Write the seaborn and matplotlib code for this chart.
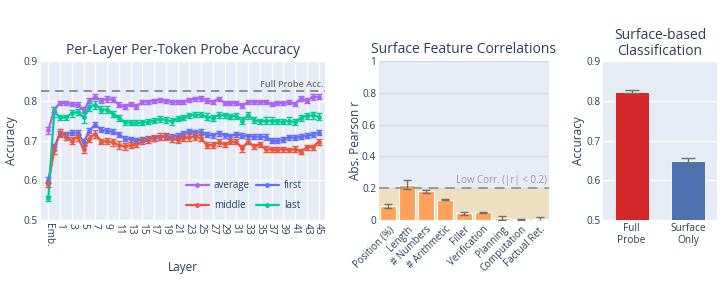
import numpy as np
import pandas as pd
import seaborn as sns
import matplotlib
matplotlib.use("Agg")
import matplotlib.pyplot as plt
from matplotlib.lines import Line2D

# ---- data ----
layer_labels = ["Emb."] + [str(i) for i in range(46)]

avg_acc = [0.726, 0.778, 0.795, 0.794, 0.791, 0.790, 0.776, 0.800, 0.810, 0.800,
           0.805, 0.803, 0.790, 0.785, 0.792, 0.785, 0.798, 0.797, 0.800, 0.802,
           0.800, 0.797, 0.796, 0.797, 0.803, 0.805, 0.806, 0.800, 0.798, 0.805,
           0.795, 0.794, 0.795, 0.788, 0.797, 0.797, 0.796, 0.797, 0.792, 0.794,
           0.795, 0.796, 0.793, 0.806, 0.800, 0.810, 0.810]
first_acc = [0.600, 0.683, 0.718, 0.715, 0.720, 0.720, 0.695, 0.725, 0.740, 0.727,
             0.725, 0.722, 0.715, 0.705, 0.703, 0.700, 0.703, 0.706, 0.706, 0.708,
             0.710, 0.710, 0.712, 0.718, 0.724, 0.720, 0.722, 0.715, 0.713, 0.718,
             0.713, 0.711, 0.716, 0.712, 0.711, 0.710, 0.710, 0.709, 0.700, 0.700,
             0.702, 0.708, 0.707, 0.710, 0.712, 0.715, 0.720]
middle_acc = [0.590, 0.677, 0.720, 0.710, 0.700, 0.708, 0.678, 0.705, 0.717, 0.697,
              0.698, 0.695, 0.688, 0.685, 0.688, 0.690, 0.698, 0.702, 0.706, 0.710,
              0.710, 0.704, 0.702, 0.706, 0.708, 0.710, 0.706, 0.688, 0.689, 0.695,
              0.690, 0.697, 0.697, 0.680, 0.697, 0.685, 0.690, 0.678, 0.678, 0.677,
              0.678, 0.676, 0.678, 0.672, 0.683, 0.683, 0.697]
last_acc = [0.555, 0.772, 0.758, 0.758, 0.768, 0.772, 0.758, 0.785, 0.790, 0.778,
            0.778, 0.767, 0.757, 0.746, 0.745, 0.745, 0.745, 0.747, 0.750, 0.754,
            0.752, 0.748, 0.755, 0.757, 0.763, 0.765, 0.765, 0.760, 0.757, 0.764,
            0.763, 0.760, 0.762, 0.750, 0.763, 0.752, 0.748, 0.750, 0.750, 0.748,
            0.747, 0.750, 0.746, 0.757, 0.762, 0.763, 0.760]

avg_err = [0.009, 0.007, 0.005, 0.005, 0.005, 0.006, 0.008, 0.006, 0.006, 0.006,
           0.007, 0.007, 0.006, 0.006, 0.006, 0.006, 0.005, 0.005, 0.005, 0.005,
           0.005, 0.005, 0.005, 0.005, 0.005, 0.005, 0.006, 0.006, 0.005, 0.005,
           0.005, 0.005, 0.005, 0.007, 0.005, 0.005, 0.005, 0.005, 0.005, 0.005,
           0.005, 0.005, 0.005, 0.007, 0.006, 0.007, 0.006]
first_err = [0.008, 0.008, 0.006, 0.006, 0.006, 0.006, 0.008, 0.006, 0.006, 0.006,
             0.006, 0.006, 0.006, 0.006, 0.006, 0.006, 0.006, 0.006, 0.006, 0.006,
             0.006, 0.006, 0.006, 0.006, 0.006, 0.006, 0.006, 0.006, 0.006, 0.006,
             0.006, 0.006, 0.006, 0.006, 0.006, 0.006, 0.006, 0.008, 0.006, 0.006,
             0.006, 0.006, 0.006, 0.006, 0.006, 0.006, 0.007]
middle_err = [0.006, 0.010, 0.010, 0.008, 0.010, 0.008, 0.010, 0.008, 0.010, 0.007,
              0.008, 0.008, 0.010, 0.008, 0.008, 0.007, 0.007, 0.008, 0.008, 0.008,
              0.008, 0.008, 0.008, 0.008, 0.008, 0.008, 0.008, 0.007, 0.007, 0.008,
              0.007, 0.007, 0.007, 0.008, 0.007, 0.007, 0.007, 0.007, 0.006, 0.006,
              0.006, 0.006, 0.008, 0.007, 0.006, 0.006, 0.008]
last_err = [0.006, 0.012, 0.006, 0.006, 0.008, 0.008, 0.014, 0.010, 0.010, 0.008,
            0.008, 0.008, 0.008, 0.006, 0.006, 0.006, 0.006, 0.006, 0.006, 0.007,
            0.007, 0.008, 0.006, 0.006, 0.006, 0.007, 0.007, 0.008, 0.007, 0.008,
            0.007, 0.007, 0.007, 0.008, 0.008, 0.008, 0.007, 0.008, 0.008, 0.006,
            0.006, 0.008, 0.008, 0.008, 0.008, 0.008, 0.008]

features = ["Position (%)", "Length", "# Numbers", "# Arithmetic", "Filler",
            "Verification", "Planning", "Computation", "Factual Ret."]
corr_vals = [0.088, 0.222, 0.180, 0.128, 0.043, 0.050, 0.013, 0.006, 0.006]
corr_err = [0.012, 0.030, 0.008, 0.004, 0.009, 0.003, 0.011, 0.003, 0.011]

methods = ["Full\nProbe", "Surface\nOnly"]
cls_acc = [0.823, 0.648]
cls_err = [0.004, 0.007]
full_probe_acc = 0.825

# ---- style ----
TXT = "#2a3f5f"
sns.set_theme(style="darkgrid", rc={
    "axes.facecolor": "#E5ECF6", "grid.color": "white", "grid.linewidth": 1.0,
    "xtick.color": TXT, "ytick.color": TXT, "axes.labelcolor": TXT,
    "text.color": TXT, "xtick.major.size": 0, "ytick.major.size": 0,
})
plt.rcParams["font.family"] = ["Open Sans", "DejaVu Sans"]

fig = plt.figure(figsize=(7.28, 2.96), dpi=100)

# ---- panel 1: per-layer accuracy ----
ax1 = fig.add_axes([0.0559, 0.2568, 0.3905, 0.537])
series = {"average": (avg_acc, avg_err, "#AB63FA"),
          "first": (first_acc, first_err, "#636EFA"),
          "middle": (middle_acc, middle_err, "#EF553B"),
          "last": (last_acc, last_err, "#00CC96")}
idx = np.arange(len(layer_labels))
rows = []
for name, (vals, errs, col) in series.items():
    for i, v in enumerate(vals):
        rows.append({"idx": i, "acc": v, "token": name})
df = pd.DataFrame(rows)
pal = {k: v[2] for k, v in series.items()}
sns.lineplot(data=df, x="idx", y="acc", hue="token", palette=pal, marker="o",
             markersize=3.5, markeredgewidth=0, linewidth=1.6, ax=ax1, legend=False)
for name, (vals, errs, col) in series.items():
    ax1.errorbar(idx, vals, yerr=errs, fmt="none", ecolor=col, elinewidth=1.0,
                 capsize=2.2, capthick=1.0)
ax1.axhline(full_probe_acc, color="#7f7f7f", ls=(0, (5, 3.5)), lw=1.2)
ax1.text(46.9, full_probe_acc + 0.004, "Full Probe Acc.", ha="right", va="bottom",
         fontsize=6.5, color="#707070", fontweight="semibold")
ax1.set_xlim(-1.3, 47.1)
ax1.set_ylim(0.5, 0.9)
ax1.set_yticks([0.5, 0.6, 0.7, 0.8, 0.9])
ax1.set_yticklabels(["0.5", "0.6", "0.7", "0.8", "0.9"])
ax1.set_xticks(idx[::2])
ax1.set_xticklabels(layer_labels[::2], rotation=-90, fontsize=7.3)
ax1.tick_params(axis="y", labelsize=7.3, pad=2)
ax1.tick_params(axis="x", pad=2)
ax1.set_xlabel("Layer", fontsize=8.5)
ax1.set_ylabel("Accuracy", fontsize=8.5)
ax1.xaxis.set_label_coords(0.5, -0.255)
ax1.yaxis.set_label_coords(-0.08, 0.5)
ax1.set_title("Per-Layer Per-Token Probe Accuracy", fontsize=10, color=TXT, pad=5)
handles = [Line2D([], [], color=series[n][2], marker="o", markersize=2.5, lw=1.6)
           for n in ["average", "middle", "first", "last"]]
ax1.legend(handles, ["average", "middle", "first", "last"], ncol=2, loc="lower right",
           bbox_to_anchor=(0.95, 0.0), frameon=False, fontsize=7, handlelength=2.4,
           columnspacing=0.6, labelspacing=0.9, handletextpad=0.5,
           labelcolor=TXT)
for s in ax1.spines.values():
    s.set_visible(False)

# ---- panel 2: surface feature correlations ----
ax2 = fig.add_axes([0.5206, 0.2568, 0.2335, 0.537])
ax2.grid(axis="x", visible=False)
ax2.grid(axis="y", color="#d3d9e6")
ax2.axhspan(0, 0.2, color="#EFDFC1", zorder=0.5, lw=0)
sns.barplot(x=features, y=corr_vals, color="#FFA15A", edgecolor="white", linewidth=0.8,
            width=0.85, ax=ax2, zorder=2, saturation=1)
ax2.errorbar(np.arange(len(features)), corr_vals, yerr=corr_err, fmt="none",
             ecolor="#6f6f6f", elinewidth=1.0, capsize=3.2, capthick=1.0, zorder=3)
ax2.axhline(0.2, color="#9a9a9a", ls=(0, (5, 3.5)), lw=1.4, zorder=2.5)
ax2.text(8.4, 0.215, "Low Corr. (|r| < 0.2)", ha="right", va="bottom", fontsize=7,
         color="#9a9a9a")
ax2.set_xlim(-0.5, 8.5)
ax2.set_ylim(0, 1)
ax2.set_yticks([0, 0.2, 0.4, 0.6, 0.8, 1])
ax2.set_yticklabels(["0", "0.2", "0.4", "0.6", "0.8", "1"])
ax2.tick_params(axis="y", labelsize=7.3, pad=2)
ax2.set_xticks(np.arange(len(features)))
ax2.set_xticklabels(features, rotation=45, ha="right", rotation_mode="anchor", fontsize=7)
ax2.tick_params(axis="x", pad=3)
ax2.set_ylabel("Abs. Pearson r", fontsize=8.5)
ax2.yaxis.set_label_coords(-0.1, 0.5)
ax2.set_title("Surface Feature Correlations", fontsize=10, color=TXT, pad=6)
for s in ax2.spines.values():
    s.set_visible(False)

# ---- panel 3: surface-based classification ----
ax3 = fig.add_axes([0.8287, 0.2568, 0.1558, 0.537])
ax3.grid(axis="x", visible=False)
sns.barplot(x=methods, y=cls_acc, hue=methods, palette=["#D62728", "#4C72B0"],
            legend=False, width=0.6, edgecolor="white", linewidth=0.6, ax=ax3,
            saturation=1, zorder=2)
ax3.errorbar(np.arange(2), cls_acc, yerr=cls_err, fmt="none", ecolor="#6f6f6f",
             elinewidth=1.0, capsize=5, capthick=1.0, zorder=3)
ax3.set_xlim(-0.5, 1.5)
ax3.set_ylim(0.5, 0.9)
ax3.set_yticks([0.5, 0.6, 0.7, 0.8, 0.9])
ax3.set_yticklabels(["0.5", "0.6", "0.7", "0.8", "0.9"])
ax3.tick_params(axis="y", labelsize=7.3, pad=2)
ax3.tick_params(axis="x", labelsize=7.3, pad=2)
ax3.set_xlabel("")
ax3.set_ylabel("Accuracy", fontsize=8.5)
ax3.yaxis.set_label_coords(-0.165, 0.5)
ax3.set_title("Surface-based\nClassification", fontsize=10, color=TXT, pad=4,
              linespacing=1.15)
for s in ax3.spines.values():
    s.set_visible(False)

fig.savefig("out.png", dpi=100, facecolor="white")
